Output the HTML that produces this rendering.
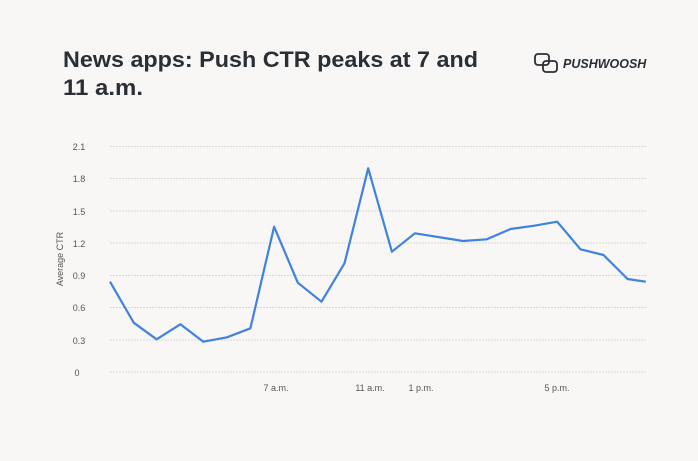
<!DOCTYPE html>
<html><head><meta charset="utf-8"><style>
body{margin:0;width:698px;height:456px;background:#f8f7f5;font-family:"Liberation Sans",sans-serif;overflow:hidden}
</style></head><body>
<svg width="698" height="456" xmlns="http://www.w3.org/2000/svg">
<text x="63" y="67" font-size="22" font-weight="bold" fill="#2a2f36" textLength="415" lengthAdjust="spacingAndGlyphs">News apps: Push CTR peaks at 7 and</text>
<text x="63" y="95" font-size="22" font-weight="bold" fill="#2a2f36" textLength="80" lengthAdjust="spacingAndGlyphs">11 a.m.</text>
<g stroke="#2a2f36" stroke-width="1.8" fill="none">
<rect x="535" y="54" width="14" height="11" rx="3"/>
<rect x="543" y="61" width="14" height="11" rx="3"/>
</g>
<text x="563" y="68" font-size="12.5" font-weight="bold" font-style="italic" fill="#2a2f36">PUSHWOOSH</text>
<g stroke="#d8d8d8" stroke-width="1" stroke-dasharray="2,1">
<line x1="110" x2="646" y1="146.5" y2="146.5"/><line x1="110" x2="646" y1="178.5" y2="178.5"/>
<line x1="110" x2="646" y1="211" y2="211"/><line x1="110" x2="646" y1="243" y2="243"/>
<line x1="110" x2="646" y1="275.5" y2="275.5"/><line x1="110" x2="646" y1="307.5" y2="307.5"/>
<line x1="110" x2="646" y1="340" y2="340"/><line x1="110" x2="646" y1="372" y2="372"/>
</g>
<g font-size="9" fill="#555" text-anchor="middle">
<text x="79" y="150">2.1</text><text x="79" y="182">1.8</text><text x="79" y="215">1.5</text>
<text x="79" y="247">1.2</text><text x="79" y="279">0.9</text><text x="79" y="311">0.6</text>
<text x="79" y="344">0.3</text><text x="77" y="376">0</text>
<text x="276" y="391">7 a.m.</text><text x="370" y="391">11 a.m.</text><text x="421" y="391">1 p.m.</text><text x="557" y="391">5 p.m.</text>
<text transform="translate(63,259) rotate(-90)">Average CTR</text>
</g>
<polyline fill="none" stroke="#3f82e0" stroke-width="2.2" stroke-linejoin="round" points="110,281.7 133.7,322.7 156.6,339.3 180.4,324.3 203.3,341.7 227,337.3 250.4,328.3 274.1,226.7 297.8,282.7 321.5,301.7 344.5,263.3 368.2,168.3 391.9,251.7 414.9,233.3 463.1,241 486.8,239.3 510.5,229 534.3,225.7 557.2,221.7 580.5,249.3 603.5,255 627.6,279 645.8,281.7"/>
</svg>
</body></html>
